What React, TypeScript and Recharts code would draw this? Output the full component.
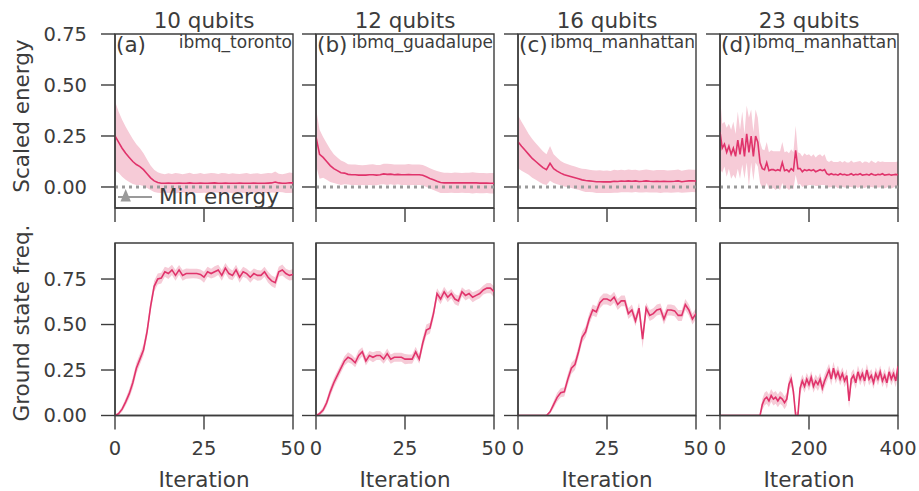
import {
	ComposedChart,
	Area,
	Line,
	XAxis,
	YAxis,
	ReferenceLine,
	ReferenceArea,
} from "recharts";

const INK = "#3c3c3c";
const LINE = "#e0336b";
const BAND = "#f6cbd7";
const GREY = "#9a9a9a";
const FONT = "'DejaVu Sans', sans-serif";

const qubitTitles = ["10 qubits", "12 qubits", "16 qubits", "23 qubits"];
const panelTags = ["(a)", "(b)", "(c)", "(d)"];
const devices = ["ibmq_toronto", "ibmq_guadalupe", "ibmq_manhattan", "ibmq_manhattan"];

// iteration index (x categories)
const shortIters = Array.from({ length: 51 }, (_, i) => i);
const longIters = Array.from({ length: 81 }, (_, i) => i * 5);
const shortTicks = [0, 25, 50];
const longTicks = [0, 200, 400];
const yTicks = [0, 0.25, 0.5, 0.75];

// (a) 10 qubits
const aEnergyMean = [0.25, 0.22, 0.19, 0.165, 0.145, 0.125, 0.11, 0.1, 0.085, 0.065, 0.045, 0.03, 0.022, 0.018, 0.018, 0.019, 0.018, 0.018, 0.019, 0.018, 0.018, 0.02, 0.018, 0.018, 0.019, 0.018, 0.018, 0.019, 0.02, 0.018, 0.018, 0.019, 0.018, 0.018, 0.018, 0.019, 0.018, 0.018, 0.018, 0.019, 0.018, 0.018, 0.018, 0.019, 0.02, 0.024, 0.02, 0.018, 0.018, 0.021, 0.02];
const aEnergyStd = [0.17, 0.15, 0.14, 0.13, 0.12, 0.11, 0.1, 0.09, 0.08, 0.07, 0.06, 0.055, 0.05, 0.048, 0.045, 0.048, 0.046, 0.05, 0.047, 0.045, 0.048, 0.05, 0.046, 0.047, 0.049, 0.046, 0.048, 0.05, 0.047, 0.046, 0.05, 0.048, 0.046, 0.049, 0.047, 0.045, 0.048, 0.05, 0.046, 0.047, 0.049, 0.046, 0.048, 0.05, 0.047, 0.052, 0.045, 0.044, 0.048, 0.05, 0.048];
const aFreqMean = [0, 0.01, 0.035, 0.075, 0.12, 0.18, 0.26, 0.31, 0.36, 0.46, 0.6, 0.71, 0.75, 0.755, 0.79, 0.78, 0.8, 0.77, 0.8, 0.77, 0.78, 0.78, 0.78, 0.78, 0.775, 0.76, 0.79, 0.78, 0.79, 0.8, 0.77, 0.81, 0.78, 0.77, 0.8, 0.76, 0.79, 0.78, 0.76, 0.78, 0.77, 0.77, 0.79, 0.76, 0.74, 0.73, 0.79, 0.8, 0.78, 0.77, 0.775];
const aFreqStd = [0, 0.01, 0.015, 0.02, 0.025, 0.03, 0.03, 0.03, 0.03, 0.03, 0.03, 0.03, 0.03, 0.03, 0.028, 0.03, 0.028, 0.03, 0.027, 0.03, 0.028, 0.027, 0.026, 0.027, 0.028, 0.03, 0.028, 0.027, 0.03, 0.028, 0.03, 0.028, 0.03, 0.027, 0.028, 0.03, 0.028, 0.027, 0.03, 0.028, 0.03, 0.027, 0.028, 0.03, 0.03, 0.03, 0.028, 0.03, 0.027, 0.028, 0.03];

// (b) 12 qubits
const bEnergyMean = [0.246, 0.16, 0.145, 0.125, 0.105, 0.09, 0.08, 0.07, 0.068, 0.062, 0.06, 0.06, 0.058, 0.058, 0.058, 0.06, 0.06, 0.058, 0.06, 0.064, 0.062, 0.063, 0.06, 0.062, 0.06, 0.06, 0.061, 0.06, 0.06, 0.06, 0.058, 0.05, 0.042, 0.035, 0.028, 0.022, 0.02, 0.02, 0.02, 0.021, 0.02, 0.02, 0.02, 0.02, 0.02, 0.02, 0.019, 0.019, 0.019, 0.018, 0.018];
const bEnergyStd = [0.14, 0.12, 0.1, 0.09, 0.08, 0.07, 0.065, 0.06, 0.055, 0.05, 0.05, 0.05, 0.05, 0.048, 0.05, 0.05, 0.052, 0.05, 0.048, 0.05, 0.052, 0.05, 0.05, 0.048, 0.05, 0.05, 0.052, 0.05, 0.05, 0.05, 0.05, 0.05, 0.05, 0.05, 0.05, 0.052, 0.05, 0.05, 0.048, 0.05, 0.05, 0.048, 0.05, 0.05, 0.052, 0.05, 0.05, 0.05, 0.048, 0.05, 0.05];
const bFreqMean = [0, 0.01, 0.03, 0.07, 0.13, 0.18, 0.22, 0.26, 0.3, 0.32, 0.31, 0.29, 0.33, 0.35, 0.3, 0.33, 0.32, 0.33, 0.33, 0.31, 0.34, 0.31, 0.32, 0.32, 0.32, 0.31, 0.31, 0.31, 0.35, 0.31, 0.4, 0.47, 0.48, 0.56, 0.67, 0.64, 0.68, 0.65, 0.67, 0.64, 0.63, 0.68, 0.66, 0.67, 0.65, 0.66, 0.67, 0.69, 0.7, 0.7, 0.68];
const bFreqStd = [0, 0.01, 0.015, 0.02, 0.025, 0.025, 0.025, 0.025, 0.025, 0.028, 0.025, 0.025, 0.028, 0.025, 0.025, 0.025, 0.028, 0.025, 0.025, 0.025, 0.028, 0.025, 0.025, 0.025, 0.025, 0.028, 0.025, 0.025, 0.028, 0.025, 0.03, 0.03, 0.03, 0.03, 0.03, 0.028, 0.028, 0.028, 0.025, 0.028, 0.028, 0.025, 0.028, 0.025, 0.028, 0.025, 0.025, 0.025, 0.028, 0.028, 0.03];

// (c) 16 qubits
const cEnergyMean = [0.222, 0.2, 0.18, 0.16, 0.14, 0.125, 0.11, 0.095, 0.085, 0.116, 0.09, 0.078, 0.068, 0.06, 0.055, 0.05, 0.045, 0.04, 0.035, 0.032, 0.03, 0.028, 0.026, 0.026, 0.025, 0.026, 0.025, 0.028, 0.027, 0.029, 0.028, 0.03, 0.028, 0.03, 0.027, 0.028, 0.03, 0.028, 0.027, 0.028, 0.027, 0.028, 0.027, 0.027, 0.028, 0.03, 0.026, 0.028, 0.03, 0.03, 0.029];
const cEnergyStd = [0.13, 0.12, 0.11, 0.1, 0.095, 0.09, 0.085, 0.08, 0.075, 0.085, 0.07, 0.065, 0.06, 0.058, 0.056, 0.055, 0.055, 0.054, 0.055, 0.056, 0.055, 0.054, 0.055, 0.056, 0.055, 0.055, 0.054, 0.056, 0.055, 0.055, 0.054, 0.056, 0.055, 0.055, 0.054, 0.055, 0.056, 0.055, 0.054, 0.055, 0.056, 0.055, 0.054, 0.055, 0.055, 0.056, 0.054, 0.055, 0.056, 0.055, 0.055];
const cFreqMean = [0, 0, 0, 0, 0, 0, 0, 0, 0, 0.02, 0.06, 0.1, 0.125, 0.13, 0.2, 0.26, 0.28, 0.35, 0.43, 0.46, 0.53, 0.58, 0.57, 0.62, 0.64, 0.64, 0.63, 0.65, 0.61, 0.63, 0.63, 0.56, 0.58, 0.52, 0.59, 0.42, 0.59, 0.55, 0.56, 0.58, 0.585, 0.53, 0.58, 0.58, 0.575, 0.55, 0.55, 0.61, 0.58, 0.53, 0.56];
const cFreqStd = [0, 0, 0, 0, 0, 0, 0, 0, 0, 0.01, 0.02, 0.025, 0.025, 0.025, 0.03, 0.03, 0.03, 0.03, 0.03, 0.03, 0.03, 0.03, 0.03, 0.03, 0.03, 0.03, 0.03, 0.03, 0.03, 0.03, 0.03, 0.03, 0.03, 0.03, 0.03, 0.05, 0.03, 0.03, 0.03, 0.03, 0.03, 0.03, 0.03, 0.03, 0.03, 0.03, 0.03, 0.03, 0.03, 0.03, 0.03];

// (d) 23 qubits, every 5th iteration
const dEnergyMean = [
	0.27, 0.19, 0.21, 0.17, 0.2, 0.16, 0.19, 0.15, 0.23, 0.16,
	0.24, 0.15, 0.26, 0.17, 0.25, 0.15, 0.25, 0.22, 0.12, 0.09,
	0.085, 0.12, 0.08, 0.085, 0.085, 0.08, 0.085, 0.08, 0.12, 0.08,
	0.085, 0.075, 0.09, 0.08, 0.18, 0.09, 0.09, 0.075, 0.085, 0.08,
	0.085, 0.08, 0.085, 0.075, 0.08, 0.085, 0.08, 0.085, 0.065, 0.06,
	0.065, 0.06, 0.062, 0.058, 0.065, 0.06, 0.062, 0.058, 0.06, 0.065,
	0.058, 0.062, 0.06, 0.065, 0.058, 0.06, 0.062, 0.058, 0.065, 0.06,
	0.058, 0.062, 0.06, 0.065, 0.058, 0.06, 0.062, 0.058, 0.06, 0.062, 0.06,
];
const dEnergyStd = [
	0.18, 0.12, 0.11, 0.12, 0.11, 0.12, 0.13, 0.11, 0.14, 0.12,
	0.13, 0.11, 0.14, 0.17, 0.13, 0.12, 0.13, 0.12, 0.1, 0.095,
	0.095, 0.1, 0.09, 0.095, 0.09, 0.095, 0.09, 0.095, 0.1, 0.09,
	0.09, 0.09, 0.095, 0.09, 0.12, 0.08, 0.075, 0.075, 0.08, 0.075,
	0.075, 0.07, 0.075, 0.07, 0.075, 0.075, 0.07, 0.075, 0.065, 0.062,
	0.065, 0.062, 0.06, 0.065, 0.062, 0.06, 0.065, 0.062, 0.06, 0.065,
	0.062, 0.06, 0.065, 0.062, 0.06, 0.065, 0.062, 0.06, 0.065, 0.062,
	0.06, 0.065, 0.062, 0.06, 0.065, 0.062, 0.06, 0.065, 0.062, 0.06, 0.065,
];
const dFreqMean = [
	0, 0, 0, 0, 0, 0, 0, 0, 0, 0,
	0, 0, 0, 0, 0, 0, 0, 0, 0, 0.06,
	0.09, 0.1, 0.08, 0.11, 0.09, 0.1, 0.08, 0.1, 0.09, 0.07,
	0.09, 0.17, 0.2, 0.13, 0, 0, 0.15, 0.19, 0.16, 0.2,
	0.17, 0.21, 0.16, 0.19, 0.17, 0.2, 0.15, 0.19, 0.22, 0.25,
	0.2, 0.26, 0.21, 0.24, 0.2, 0.23, 0.19, 0.22, 0.08, 0.2,
	0.22, 0.18, 0.24, 0.2, 0.23, 0.19, 0.25, 0.2, 0.22, 0.18,
	0.23, 0.2, 0.24, 0.19, 0.22, 0.18, 0.24, 0.2, 0.23, 0.19, 0.27,
];
const dFreqStd = [
	0, 0, 0, 0, 0, 0, 0, 0, 0, 0,
	0, 0, 0, 0, 0, 0, 0, 0, 0, 0.03,
	0.035, 0.035, 0.035, 0.035, 0.035, 0.035, 0.035, 0.035, 0.035, 0.035,
	0.035, 0.035, 0.035, 0.035, 0.02, 0.02, 0.035, 0.035, 0.035, 0.035,
	0.035, 0.035, 0.035, 0.035, 0.035, 0.035, 0.035, 0.035, 0.035, 0.035,
	0.035, 0.035, 0.035, 0.035, 0.035, 0.035, 0.035, 0.035, 0.04, 0.035,
	0.035, 0.035, 0.035, 0.035, 0.035, 0.035, 0.035, 0.035, 0.035, 0.035,
	0.035, 0.035, 0.035, 0.035, 0.035, 0.035, 0.035, 0.035, 0.035, 0.035, 0.04,
];

const buildRows = (iters: number[], mean: number[], std: number[]) =>
	iters.map((it, i) => ({
		it,
		mean: mean[i],
		band: [mean[i] - std[i], mean[i] + std[i]],
	}));

const energyRows = [
	buildRows(shortIters, aEnergyMean, aEnergyStd),
	buildRows(shortIters, bEnergyMean, bEnergyStd),
	buildRows(shortIters, cEnergyMean, cEnergyStd),
	buildRows(longIters, dEnergyMean, dEnergyStd),
];
const freqRows = [
	buildRows(shortIters, aFreqMean, aFreqStd),
	buildRows(shortIters, bFreqMean, bFreqStd),
	buildRows(shortIters, cFreqMean, cFreqStd),
	buildRows(longIters, dFreqMean, dFreqStd),
];

const PANEL_X = [115, 316, 518, 720];
const PANEL_W = 178;
const TOP_Y = 34;
const TOP_H = 174;
const BOT_Y = 243;
const BOT_H = 172.5;
const ENERGY_DOMAIN: [number, number] = [-0.103, 0.75];
const FREQ_DOMAIN: [number, number] = [0, 0.948];

const AXIS_W = 100;
const AXIS_H = 60;
const PAD = 10;
const PAD_R = 30;

type PanelProps = {
	col: number;
	top: number;
	height: number;
	rows: { it: number; mean: number; band: number[] }[];
	domain: [number, number];
	xLabels: boolean;
	zeroLine: boolean;
};

const Panel = ({ col, top, height, rows, domain, xLabels, zeroLine }: PanelProps) => {
	const long = col === 3;
	const xMax = long ? 400 : 50;
	const tickStyle = { fontSize: 19.5, fill: INK, fontFamily: FONT };
	return (
		<div
			style={{
				position: "absolute",
				left: PANEL_X[col] - AXIS_W,
				top: top - PAD,
			}}
		>
			<ComposedChart
				width={AXIS_W + PANEL_W + PAD_R}
				height={PAD + height + AXIS_H}
				data={rows}
				margin={{ top: PAD, right: PAD_R, bottom: 0, left: 0 }}
			>
				<XAxis
					dataKey="it"
					type="number"
					domain={[0, xMax]}
					ticks={long ? longTicks : shortTicks}
					height={AXIS_H}
					tickSize={14}
					tickMargin={12}
					stroke={INK}
					strokeWidth={1.4}
					tick={tickStyle}
					tickFormatter={(v: number) => (xLabels ? String(v) : "")}
					interval={0}
					allowDataOverflow
				/>
				<YAxis
					type="number"
					domain={domain}
					ticks={yTicks}
					width={AXIS_W}
					tickSize={14}
					tickMargin={14}
					stroke={INK}
					strokeWidth={1.4}
					tick={tickStyle}
					tickFormatter={(v: number) => (col === 0 ? v.toFixed(2) : "")}
					interval={0}
					allowDataOverflow
				/>
				<Area
					dataKey="band"
					stroke="none"
					fill={BAND}
					fillOpacity={1}
					isAnimationActive={false}
				/>
				{zeroLine && (
					<ReferenceLine
						y={0}
						stroke={GREY}
						strokeWidth={3}
						strokeDasharray="3 4"
					/>
				)}
				<Line
					dataKey="mean"
					stroke={LINE}
					strokeWidth={1.6}
					dot={false}
					isAnimationActive={false}
				/>
				<ReferenceArea
					x1={0}
					x2={xMax}
					y1={domain[0]}
					y2={domain[1]}
					fill="none"
					stroke={INK}
					strokeWidth={1.4}
					ifOverflow="visible"
				/>
			</ComposedChart>
		</div>
	);
};

export default function App() {
	const label = { fill: INK, fontFamily: FONT };
	return (
		<div
			style={{
				position: "absolute",
				left: 0,
				top: 0,
				width: 919,
				height: 491,
				background: "#fff",
			}}
		>
			{energyRows.map((rows, i) => (
				<Panel
					key={`e${i}`}
					col={i}
					top={TOP_Y}
					height={TOP_H}
					rows={rows}
					domain={ENERGY_DOMAIN}
					xLabels={false}
					zeroLine
				/>
			))}
			{freqRows.map((rows, i) => (
				<Panel
					key={`f${i}`}
					col={i}
					top={BOT_Y}
					height={BOT_H}
					rows={rows}
					domain={FREQ_DOMAIN}
					xLabels
					zeroLine={false}
				/>
			))}
			<svg
				width={919}
				height={491}
				style={{ position: "absolute", left: 0, top: 0, pointerEvents: "none" }}
			>
				{PANEL_X.map((x, i) => (
					<g key={i}>
						<text x={x + PANEL_W / 2} y={28} textAnchor="middle" fontSize={21.5} {...label}>
							{qubitTitles[i]}
						</text>
						<text x={x + 1} y={52} fontSize={21.5} {...label}>
							{panelTags[i]}
						</text>
						<text x={x + PANEL_W - 1} y={48} textAnchor="end" fontSize={17} {...label}>
							{devices[i]}
						</text>
						<text x={x + PANEL_W / 2} y={487} textAnchor="middle" fontSize={21.5} {...label}>
							Iteration
						</text>
					</g>
				))}
				<text
					x={29}
					y={116}
					textAnchor="middle"
					fontSize={21.5}
					transform="rotate(-90 29 116)"
					{...label}
				>
					Scaled energy
				</text>
				<text
					x={29}
					y={323}
					textAnchor="middle"
					fontSize={21.5}
					transform="rotate(-90 29 323)"
					{...label}
				>
					Ground state freq.
				</text>
				{/* legend */}
				<line x1={118} y1={197} x2={152} y2={197} stroke={GREY} strokeWidth={2} />
				<polygon points="125.7,189 120.5,201.5 130.9,201.5" fill={GREY} />
				<text x={159} y={204} fontSize={21.5} {...label}>
					Min energy
				</text>
			</svg>
		</div>
	);
}
